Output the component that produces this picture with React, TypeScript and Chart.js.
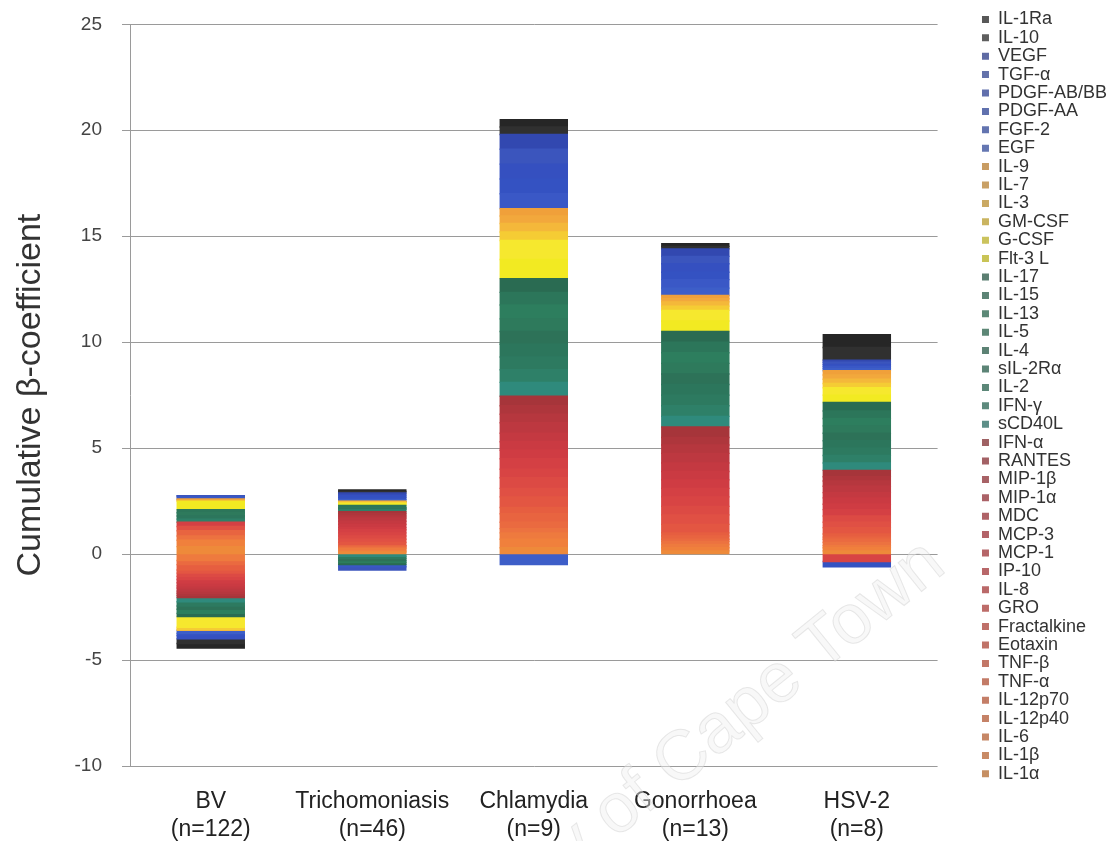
import React, { useEffect, useRef } from "react";
import { Chart, registerables } from "chart.js";

Chart.register(...registerables);

// Infection groups on the x axis (two-line labels)
const categories: string[][] = [
  ["BV", "(n=122)"],
  ["Trichomoniasis", "(n=46)"],
  ["Chlamydia", "(n=9)"],
  ["Gonorrhoea", "(n=13)"],
  ["HSV-2", "(n=8)"],
];

// Cytokines in stacking order, bottom of the stack first
const cytokines = [
  "IL-1α", "IL-1β", "IL-6", "IL-12p40", "IL-12p70", "TNF-α", "TNF-β",
  "Eotaxin", "Fractalkine", "GRO", "IL-8", "IP-10", "MCP-1", "MCP-3", "MDC",
  "MIP-1α", "MIP-1β", "RANTES", "IFN-α",
  "sCD40L", "IFN-γ", "IL-2", "sIL-2Rα", "IL-4", "IL-5", "IL-13", "IL-15", "IL-17",
  "Flt-3 L", "G-CSF", "GM-CSF", "IL-3", "IL-7", "IL-9",
  "EGF", "FGF-2", "PDGF-AA", "PDGF-AB/BB", "TGF-α", "VEGF",
  "IL-10", "IL-1Ra",
];

const cytokineColors = [
  "#ee8a3a", "#f0803c", "#ee7a3e", "#ec7240", "#ea6a40", "#e86440", "#e65e40",
  "#e35642", "#e05044", "#dc4a44", "#d84444", "#d44044", "#cf3c43", "#ca3a42", "#c43941",
  "#bd3840", "#b6373e", "#ae363c", "#a6353a",
  "#2f8a7c", "#2e8068", "#2d7a60", "#2c765c", "#2d7258", "#2e7a5c", "#2d7e5e", "#2c765a", "#2a6b52",
  "#f2ea22", "#f6e82e", "#f5cc34", "#f4b83a", "#f2a83c", "#f0a03a",
  "#3d5ec8", "#3a58c6", "#3452c2", "#3550c0", "#3b55bd", "#3248b0",
  "#303030", "#262626",
];

// β-coefficients per cytokine (same order as `cytokines`)
const bvValues = [
  0.35, 0.3, -0.3, 0.2, -0.2, 0.25, -0.25,
  -0.15, 0.2, -0.15, -0.15, 0.2, -0.15, -0.15, -0.1,
  -0.15, -0.1, -0.1, -0.1,
  -0.2, 0.15, -0.2, 0.15, -0.15, 0.15, -0.2, 0.15, -0.15,
  0.4, -0.5, -0.1, -0.05, 0.05, 0.05,
  -0.15, 0.1, -0.1, -0.15, 0.05, 0,
  -0.22, -0.22,
];

const trichomoniasisValues = [
  0.1, 0.05, 0.1, 0.05, 0.05, 0.05, 0,
  0.15, 0.15, 0.15, 0.15, 0.15, 0.1, 0.15, 0.15,
  0.15, 0.1, 0.1, 0.1,
  -0.1, 0.1, -0.1, 0.05, -0.1, 0.05, -0.1, 0.1, -0.1,
  0.05, 0.05, 0.04, 0.04, 0, 0,
  0.1, -0.1, 0.1, 0.1, -0.15, 0.1,
  0.08, 0.07,
];

const chlamydiaValues = [
  0.3, 0.4, 0.3, 0.2, 0.3, 0.4, 0.3,
  0.5, 0.4, 0.5, 0.4, 0.5, 0.4, 0.4, 0.4,
  0.5, 0.4, 0.4, 0.45,
  0.65, 0.6, 0.6, 0.6, 0.6, 0.6, 0.65, 0.6, 0.65,
  0.9, 0.9, 0.4, 0.4, 0.35, 0.35,
  -0.5, 0.7, 0.7, 0.7, 0.7, 0.7,
  0.35, 0.35,
];

const gonorrhoeaValues = [
  0.15, 0.15, 0.15, 0.15, 0.1, 0.15, 0.15,
  0.4, 0.45, 0.4, 0.45, 0.4, 0.4, 0.4, 0.4,
  0.45, 0.4, 0.35, 0.5,
  0.5, 0.5, 0.5, 0.5, 0.5, 0.5, 0.5, 0.5, 0.5,
  0.5, 0.5, 0.2, 0.2, 0.15, 0.15,
  0.35, 0.4, 0.35, 0.4, 0.35, 0.35,
  0.12, 0.13,
];

const hsv2Values = [
  0.15, 0.15, 0.1, 0.15, 0.15, 0.1, 0.15,
  0.3, 0.25, 0.3, -0.35, 0.3, 0.25, 0.3, 0.25,
  0.3, 0.25, 0.2, 0.3,
  0.35, 0.35, 0.35, 0.35, 0.35, 0.35, 0.35, 0.35, 0.4,
  0.35, 0.35, 0.2, 0.2, 0.2, 0.2,
  0.1, 0.1, -0.25, 0.1, 0.1, 0.1,
  0.6, 0.6,
];

const yMin = -10;
const yMax = 25;
const yStep = 5;
const yTitle = "Cumulative β-coefficient";
const watermarkText = "University of Cape Town";

const FONT = '"Liberation Sans", Arial, Helvetica, sans-serif';

// Legend swatches are shown in a softened tone of each series colour
function soften(hex: string, amount = 0.45): string {
  const n = parseInt(hex.slice(1), 16);
  const r = (n >> 16) & 255, g = (n >> 8) & 255, b = n & 255;
  const grey = 150;
  const mix = (c: number) => Math.round(c * (1 - amount) + grey * amount);
  return `rgb(${mix(r)},${mix(g)},${mix(b)})`;
}

const watermarkPlugin = {
  id: "watermark",
  afterDraw(chart: any) {
    const { ctx } = chart;
    ctx.save();
    ctx.translate(948, 570);
    ctx.rotate(-0.68);
    ctx.font = `70px ${FONT}`;
    ctx.textAlign = "right";
    ctx.textBaseline = "alphabetic";
    ctx.fillStyle = "rgba(240,240,240,0.45)";
    ctx.fillText(watermarkText, 0, 0);
    ctx.strokeStyle = "rgba(200,200,200,0.4)";
    ctx.lineWidth = 1;
    ctx.strokeText(watermarkText, 0, 0);
    ctx.restore();
  },
};

export default function App() {
  const canvasRef = useRef<HTMLCanvasElement | null>(null);

  useEffect(() => {
    if (!canvasRef.current) return;
    const series = [bvValues, trichomoniasisValues, chlamydiaValues, gonorrhoeaValues, hsv2Values];
    const datasets = cytokines.map((name, i) => ({
      label: name,
      data: series.map((s) => s[i]),
      backgroundColor: cytokineColors[i],
      borderWidth: 0,
      inflateAmount: 0.7,
      barPercentage: 0.415,
      categoryPercentage: 1,
    }));

    const chart = new Chart(canvasRef.current, {
      type: "bar",
      data: { labels: categories, datasets },
      plugins: [watermarkPlugin],
      options: {
        animation: false,
        responsive: false,
        devicePixelRatio: 1,
        layout: { padding: { top: 10, right: 0, bottom: 0, left: 0 } },
        plugins: {
          tooltip: { enabled: false },
          legend: {
            position: "right",
            align: "start",
            reverse: true,
            labels: {
              boxWidth: 7,
              boxHeight: 7,
              padding: 0.4,
              color: "#333",
              font: { family: FONT, size: 18 },
              generateLabels: (c: any) => {
                const items = Chart.defaults.plugins.legend.labels.generateLabels(c);
                return items.map((it: any) => ({
                  ...it,
                  fillStyle: soften(cytokineColors[it.datasetIndex]),
                  strokeStyle: soften(cytokineColors[it.datasetIndex]),
                  lineWidth: 0,
                }));
              },
            },
          },
        },
        scales: {
          x: {
            stacked: true,
            grid: { display: false, drawTicks: false },
            border: { display: false },
            ticks: {
              color: "#222",
              font: { family: FONT, size: 23, lineHeight: 1.2 },
              padding: 22,
              maxRotation: 0,
              autoSkip: false,
            },
            afterFit: (s: any) => {
              s.height = 75;
            },
          },
          y: {
            stacked: true,
            min: yMin,
            max: yMax,
            ticks: {
              stepSize: yStep,
              color: "#444",
              font: { family: FONT, size: 19, lineHeight: 0.45 },
              padding: 20,
            },
            grid: { color: "#9a9a9a", lineWidth: 1, tickLength: 8, drawTicks: true },
            border: { color: "#9a9a9a", width: 1 },
            title: {
              display: true,
              text: yTitle,
              color: "#333",
              font: { family: FONT, size: 34, lineHeight: 1.2 },
              padding: { top: 10, bottom: 0 },
            },
            afterFit: (s: any) => {
              s.width = 130;
            },
          },
          yRightSpace: {
            type: "linear",
            position: "right",
            display: true,
            grid: { display: false, drawTicks: false },
            border: { display: false },
            ticks: { display: false },
            afterFit: (s: any) => {
              s.width = 44;
            },
          },
        },
      } as any,
    });
    return () => chart.destroy();
  }, []);

  return (
    <div style={{ position: "absolute", left: 0, top: 0, width: 1117, height: 841, background: "#fff" }}>
      <canvas ref={canvasRef} width={1117} height={841} style={{ display: "block" }} />
    </div>
  );
}
